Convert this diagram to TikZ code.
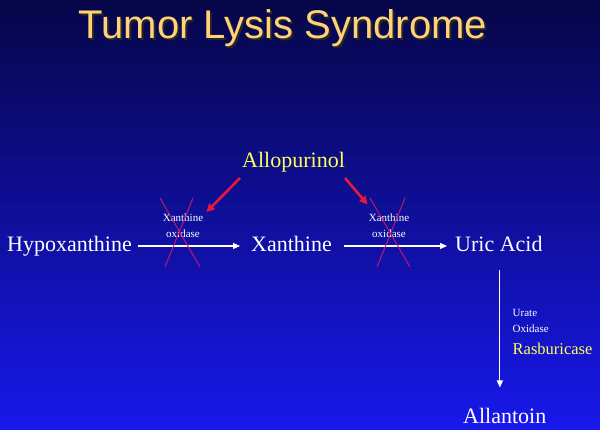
\documentclass[tikz,border=0pt]{standalone}
\usepackage{fontspec}
\setmainfont{Liberation Serif}
\newfontfamily\titlefont{Liberation Sans}
\usetikzlibrary{arrows.meta,calc}
\definecolor{bgtop}{RGB}{6,6,72}
\definecolor{bgbot}{RGB}{24,24,236}
\definecolor{titlecol}{RGB}{255,210,120}
\definecolor{yel}{RGB}{255,255,90}
\definecolor{inhibred}{RGB}{232,24,60}
\definecolor{crosscol}{RGB}{200,30,100}
\tikzset{
  big/.style={text=white,inner sep=0pt,font=\fontsize{22}{26}\selectfont},
  small/.style={text=white,inner sep=0pt,align=center,font=\fontsize{11}{16}\selectfont},
  flow/.style={draw=white,line width=1.2pt,-{Triangle[width=6pt,length=7pt]}},
  inhib/.style={draw=inhibred,line width=2.6pt,-{Triangle[width=8pt,length=8pt]}},
  crossline/.style={draw=crosscol,line width=1.1pt,opacity=0.85},
}
\begin{document}
\begin{tikzpicture}[x=1pt,y=-1pt]
\useasboundingbox (0,0) rectangle (600,430);
\shade[top color=bgtop,bottom color=bgbot] (0,0) rectangle (600,430);
% title
\node[anchor=base west,inner sep=0pt,text=black!85,font=\titlefont\fontsize{40}{44}\selectfont] at (80.5,40.3) {Tumor Lysis Syndrome};
\node[anchor=base west,inner sep=0pt,text=titlecol,font=\titlefont\fontsize{40}{44}\selectfont] (title) at (78.5,38.3) {Tumor Lysis Syndrome};
% main nodes
\node[big,anchor=base west] (hypo) at (7,251.5) {Hypoxanthine};
\node[big,anchor=base west] (xan) at (251,251.5) {Xanthine};
\node[big,anchor=base west] (uric) at (455,251.5) {Uric Acid};
\node[big,anchor=base west] (allan) at (463,423) {Allantoin};
\node[big,anchor=base west,text=yel] (allo) at (242,168) {Allopurinol};
% enzyme labels (base = baseline of last line)
\node[small,anchor=base] (xo1) at (183,238) {Xanthine\\oxidase};
\node[small,anchor=base] (xo2) at (389,238) {Xanthine\\oxidase};
\node[small,anchor=base west,align=left] (uo) at (512.5,333) {Urate\\Oxidase};
\node[anchor=base west,inner sep=0pt,text=yel,font=\fontsize{16.5}{20}\selectfont] (ras) at (512.5,355) {Rasburicase};
% flow arrows
\draw[flow] ($(hypo.base east)+(6,-5.5)$) -- ($(xan.base west)+(-11,-5.5)$);
\draw[flow] ($(xan.base east)+(12,-5.5)$) -- ($(uric.base west)+(-8,-5.5)$);
\coordinate (vtop) at ($(uric.base)+(1,19)$);
\coordinate (vbot) at ($(uric.base)+(1,136)$);
\draw[flow] (vtop) -- (vbot);
% crosses
\coordinate (c1) at (180,232.5);
\coordinate (c2) at (390,232.5);
\draw[crossline] ($(c1)+(-20,-34.5)$) -- ($(c1)+(20,34.5)$);
\draw[crossline] ($(c1)+(13,-34.5)$) -- ($(c1)+(-15,34.5)$);
\draw[crossline] ($(c2)+(-20,-34.5)$) -- ($(c2)+(20,34.5)$);
\draw[crossline] ($(c2)+(15,-34.5)$) -- ($(c2)+(-13,34.5)$);
% inhibition arrows
\coordinate (r1) at (206.5,212);
\coordinate (r2) at (367.5,204.5);
\draw[inhib] ($(allo.base west)+(-2,10)$) -- (r1);
\draw[inhib] ($(allo.base east)+(0,10)$) -- (r2);
\end{tikzpicture}
\end{document}
